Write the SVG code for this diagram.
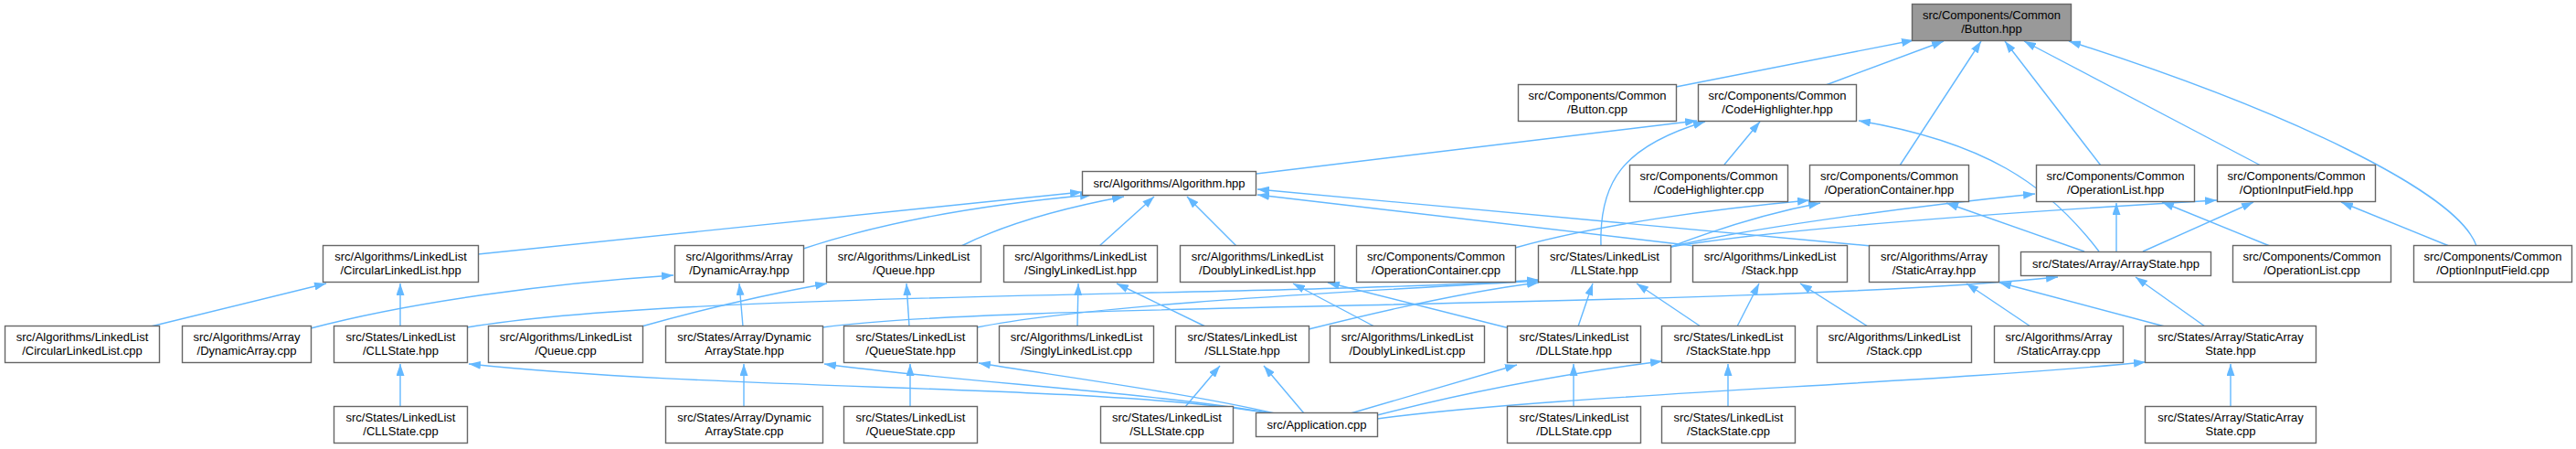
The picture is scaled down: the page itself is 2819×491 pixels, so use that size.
<svg xmlns="http://www.w3.org/2000/svg" width="2819" height="491" viewBox="0 0 2819 491">
<style>
.n rect{fill:#ffffff;stroke:#666666;stroke-width:1.4}
.n.main rect{fill:#999999}
.n text{font-family:"Liberation Sans",Arial,sans-serif;font-size:13px;fill:#000;text-anchor:middle}
.e path{fill:none;stroke:#63b8ff;stroke-width:1.4;marker-end:url(#ah)}
</style>
<defs>
<marker id="ah" viewBox="0 0 13 9" refX="13" refY="4.5" markerWidth="13" markerHeight="9" markerUnits="userSpaceOnUse" orient="auto">
<path d="M0,0 L13,4.5 L0,9 z" fill="#63b8ff" stroke="none"/>
</marker>
</defs>
<rect x="0" y="0" width="2819" height="491" fill="#ffffff"/>
<g id="edges" class="e">
<path d="M1834,95 L2094,44"/>
<path d="M1998,93 L2127,45"/>
<path d="M2079,181 L2168,45"/>
<path d="M2299,181 L2194,45"/>
<path d="M2474,181 L2215,45"/>
<path d="M2710,269 C2690,210 2500,120 2264,45"/>
<path d="M1375,190 L1857,132"/>
<path d="M1752,268 C1750,200 1775,160 1866,133"/>
<path d="M1887,180 L1926,133"/>
<path d="M2297,275 C2240,200 2170,155 2034,132"/>
<path d="M523,278 L1184,210"/>
<path d="M879,272 C960,245 1060,225 1195,213"/>
<path d="M1052,269 C1100,245 1160,228 1230,215"/>
<path d="M1203,269 L1263,215"/>
<path d="M1353,269 L1299,215"/>
<path d="M1855,269 L1376,213"/>
<path d="M2048,269 L1376,207"/>
<path d="M1658,271 C1750,245 1880,228 1980,219"/>
<path d="M1828,270 C1880,250 1940,232 1992,222"/>
<path d="M2281,275 L2130,222"/>
<path d="M1828,270 C1920,248 2100,225 2227,212"/>
<path d="M2316,275 L2316,222"/>
<path d="M2484,269 L2366,221"/>
<path d="M1828,270 C1950,250 2200,232 2426,219"/>
<path d="M2345,275 L2466,221"/>
<path d="M2680,269 L2562,221"/>
<path d="M165,357 L357,310"/>
<path d="M438,357 L438,310"/>
<path d="M340,359 C450,330 600,310 737,301"/>
<path d="M813,357 L809,310"/>
<path d="M702,357 C780,335 850,320 905,310"/>
<path d="M995,357 L992,310"/>
<path d="M1179,357 L1180,310"/>
<path d="M1319,357 L1222,310"/>
<path d="M1504,357 L1415,310"/>
<path d="M1652,359 L1453,309"/>
<path d="M511,358 C750,318 1400,325 1684,306"/>
<path d="M1069,358 C1200,332 1500,318 1684,307"/>
<path d="M1432,360 C1520,338 1610,318 1684,309"/>
<path d="M1727,357 L1743,310"/>
<path d="M1861,357 L1791,310"/>
<path d="M1901,357 L1925,310"/>
<path d="M2044,357 L1970,310"/>
<path d="M2222,357 L2152,310"/>
<path d="M2369,357 L2188,309"/>
<path d="M2413,357 L2337,303"/>
<path d="M900,358 C1100,330 1900,338 2252,303"/>
<path d="M438,444 L438,398"/>
<path d="M1390,452 C1200,420 800,428 513,398"/>
<path d="M814,444 L814,398"/>
<path d="M1392,452 C1250,428 1050,418 902,398"/>
<path d="M996,444 L996,398"/>
<path d="M1395,452 C1300,430 1150,410 1071,397"/>
<path d="M1297,445 L1335,400"/>
<path d="M1427,452 L1383,400"/>
<path d="M1722,444 L1722,398"/>
<path d="M1478,452 L1660,399"/>
<path d="M1891,444 L1891,398"/>
<path d="M1507,454 C1600,430 1700,410 1819,395"/>
<path d="M2441,444 L2441,398"/>
<path d="M1507,458 C1700,432 2100,420 2348,396"/>
</g>
<g id="BH" class="n main"><rect x="2092.5" y="4.5" width="174" height="40"/><text x="2179.5" y="21">src/Components/Common</text><text x="2179.5" y="36">/Button.hpp</text></g>
<g id="BC" class="n"><rect x="1661.5" y="92.5" width="173" height="40"/><text x="1748" y="109">src/Components/Common</text><text x="1748" y="124">/Button.cpp</text></g>
<g id="CHH" class="n"><rect x="1858.5" y="92.5" width="173" height="40"/><text x="1945" y="109">src/Components/Common</text><text x="1945" y="124">/CodeHighlighter.hpp</text></g>
<g id="ALG" class="n"><rect x="1184.5" y="187.5" width="190" height="26"/><text x="1279.5" y="205">src/Algorithms/Algorithm.hpp</text></g>
<g id="CHC" class="n"><rect x="1783.5" y="180.5" width="173" height="40"/><text x="1870" y="197">src/Components/Common</text><text x="1870" y="212">/CodeHighlighter.cpp</text></g>
<g id="OCH" class="n"><rect x="1980.5" y="180.5" width="174" height="40"/><text x="2067.5" y="197">src/Components/Common</text><text x="2067.5" y="212">/OperationContainer.hpp</text></g>
<g id="OLH" class="n"><rect x="2228.5" y="180.5" width="173" height="40"/><text x="2315" y="197">src/Components/Common</text><text x="2315" y="212">/OperationList.hpp</text></g>
<g id="OIH" class="n"><rect x="2426.5" y="180.5" width="173" height="40"/><text x="2513" y="197">src/Components/Common</text><text x="2513" y="212">/OptionInputField.hpp</text></g>
<g id="CLH" class="n"><rect x="353.5" y="268.5" width="170" height="40"/><text x="438.5" y="285">src/Algorithms/LinkedList</text><text x="438.5" y="300">/CircularLinkedList.hpp</text></g>
<g id="DAH" class="n"><rect x="738.5" y="268.5" width="141" height="40"/><text x="809" y="285">src/Algorithms/Array</text><text x="809" y="300">/DynamicArray.hpp</text></g>
<g id="QH" class="n"><rect x="904.5" y="268.5" width="169" height="40"/><text x="989" y="285">src/Algorithms/LinkedList</text><text x="989" y="300">/Queue.hpp</text></g>
<g id="SLH" class="n"><rect x="1098.5" y="268.5" width="168" height="40"/><text x="1182.5" y="285">src/Algorithms/LinkedList</text><text x="1182.5" y="300">/SinglyLinkedList.hpp</text></g>
<g id="DLH" class="n"><rect x="1291.5" y="268.5" width="169" height="40"/><text x="1376" y="285">src/Algorithms/LinkedList</text><text x="1376" y="300">/DoublyLinkedList.hpp</text></g>
<g id="OCC" class="n"><rect x="1484.5" y="268.5" width="174" height="40"/><text x="1571.5" y="285">src/Components/Common</text><text x="1571.5" y="300">/OperationContainer.cpp</text></g>
<g id="LLH" class="n"><rect x="1683.5" y="268.5" width="145" height="40"/><text x="1756" y="285">src/States/LinkedList</text><text x="1756" y="300">/LLState.hpp</text></g>
<g id="STH" class="n"><rect x="1852.5" y="268.5" width="169" height="40"/><text x="1937" y="285">src/Algorithms/LinkedList</text><text x="1937" y="300">/Stack.hpp</text></g>
<g id="SAH" class="n"><rect x="2045.5" y="268.5" width="142" height="40"/><text x="2116.5" y="285">src/Algorithms/Array</text><text x="2116.5" y="300">/StaticArray.hpp</text></g>
<g id="ASH" class="n"><rect x="2211.5" y="275.5" width="208" height="26"/><text x="2315.5" y="293">src/States/Array/ArrayState.hpp</text></g>
<g id="OLC" class="n"><rect x="2443.5" y="268.5" width="173" height="40"/><text x="2530" y="285">src/Components/Common</text><text x="2530" y="300">/OperationList.cpp</text></g>
<g id="OIC" class="n"><rect x="2641.5" y="268.5" width="173" height="40"/><text x="2728" y="285">src/Components/Common</text><text x="2728" y="300">/OptionInputField.cpp</text></g>
<g id="CLC" class="n"><rect x="5.5" y="356.5" width="169" height="40"/><text x="90" y="373">src/Algorithms/LinkedList</text><text x="90" y="388">/CircularLinkedList.cpp</text></g>
<g id="DAC" class="n"><rect x="199.5" y="356.5" width="141" height="40"/><text x="270" y="373">src/Algorithms/Array</text><text x="270" y="388">/DynamicArray.cpp</text></g>
<g id="CLS" class="n"><rect x="365.5" y="356.5" width="146" height="40"/><text x="438.5" y="373">src/States/LinkedList</text><text x="438.5" y="388">/CLLState.hpp</text></g>
<g id="QC" class="n"><rect x="534.5" y="356.5" width="169" height="40"/><text x="619" y="373">src/Algorithms/LinkedList</text><text x="619" y="388">/Queue.cpp</text></g>
<g id="DAS" class="n"><rect x="728.5" y="356.5" width="172" height="40"/><text x="814.5" y="373">src/States/Array/Dynamic</text><text x="814.5" y="388">ArrayState.hpp</text></g>
<g id="QS" class="n"><rect x="923.5" y="356.5" width="146" height="40"/><text x="996.5" y="373">src/States/LinkedList</text><text x="996.5" y="388">/QueueState.hpp</text></g>
<g id="SLC" class="n"><rect x="1093.5" y="356.5" width="169" height="40"/><text x="1178" y="373">src/Algorithms/LinkedList</text><text x="1178" y="388">/SinglyLinkedList.cpp</text></g>
<g id="SLS" class="n"><rect x="1286.5" y="356.5" width="146" height="40"/><text x="1359.5" y="373">src/States/LinkedList</text><text x="1359.5" y="388">/SLLState.hpp</text></g>
<g id="DLC" class="n"><rect x="1455.5" y="356.5" width="169" height="40"/><text x="1540" y="373">src/Algorithms/LinkedList</text><text x="1540" y="388">/DoublyLinkedList.cpp</text></g>
<g id="DLS" class="n"><rect x="1649.5" y="356.5" width="146" height="40"/><text x="1722.5" y="373">src/States/LinkedList</text><text x="1722.5" y="388">/DLLState.hpp</text></g>
<g id="STS" class="n"><rect x="1818.5" y="356.5" width="146" height="40"/><text x="1891.5" y="373">src/States/LinkedList</text><text x="1891.5" y="388">/StackState.hpp</text></g>
<g id="STC" class="n"><rect x="1988.5" y="356.5" width="169" height="40"/><text x="2073" y="373">src/Algorithms/LinkedList</text><text x="2073" y="388">/Stack.cpp</text></g>
<g id="SAC" class="n"><rect x="2182.5" y="356.5" width="141" height="40"/><text x="2253" y="373">src/Algorithms/Array</text><text x="2253" y="388">/StaticArray.cpp</text></g>
<g id="SAS" class="n"><rect x="2347.5" y="356.5" width="187" height="40"/><text x="2441" y="373">src/States/Array/StaticArray</text><text x="2441" y="388">State.hpp</text></g>
<g id="CLSC" class="n"><rect x="365.5" y="444.5" width="146" height="40"/><text x="438.5" y="461">src/States/LinkedList</text><text x="438.5" y="476">/CLLState.cpp</text></g>
<g id="DASC" class="n"><rect x="728.5" y="444.5" width="172" height="40"/><text x="814.5" y="461">src/States/Array/Dynamic</text><text x="814.5" y="476">ArrayState.cpp</text></g>
<g id="QSC" class="n"><rect x="923.5" y="444.5" width="146" height="40"/><text x="996.5" y="461">src/States/LinkedList</text><text x="996.5" y="476">/QueueState.cpp</text></g>
<g id="SLSC" class="n"><rect x="1204.5" y="444.5" width="145" height="40"/><text x="1277" y="461">src/States/LinkedList</text><text x="1277" y="476">/SLLState.cpp</text></g>
<g id="APP" class="n"><rect x="1374.5" y="451.5" width="133" height="26"/><text x="1441" y="469">src/Application.cpp</text></g>
<g id="DLSC" class="n"><rect x="1649.5" y="444.5" width="146" height="40"/><text x="1722.5" y="461">src/States/LinkedList</text><text x="1722.5" y="476">/DLLState.cpp</text></g>
<g id="STSC" class="n"><rect x="1818.5" y="444.5" width="146" height="40"/><text x="1891.5" y="461">src/States/LinkedList</text><text x="1891.5" y="476">/StackState.cpp</text></g>
<g id="SASC" class="n"><rect x="2347.5" y="444.5" width="187" height="40"/><text x="2441" y="461">src/States/Array/StaticArray</text><text x="2441" y="476">State.cpp</text></g>
</svg>
